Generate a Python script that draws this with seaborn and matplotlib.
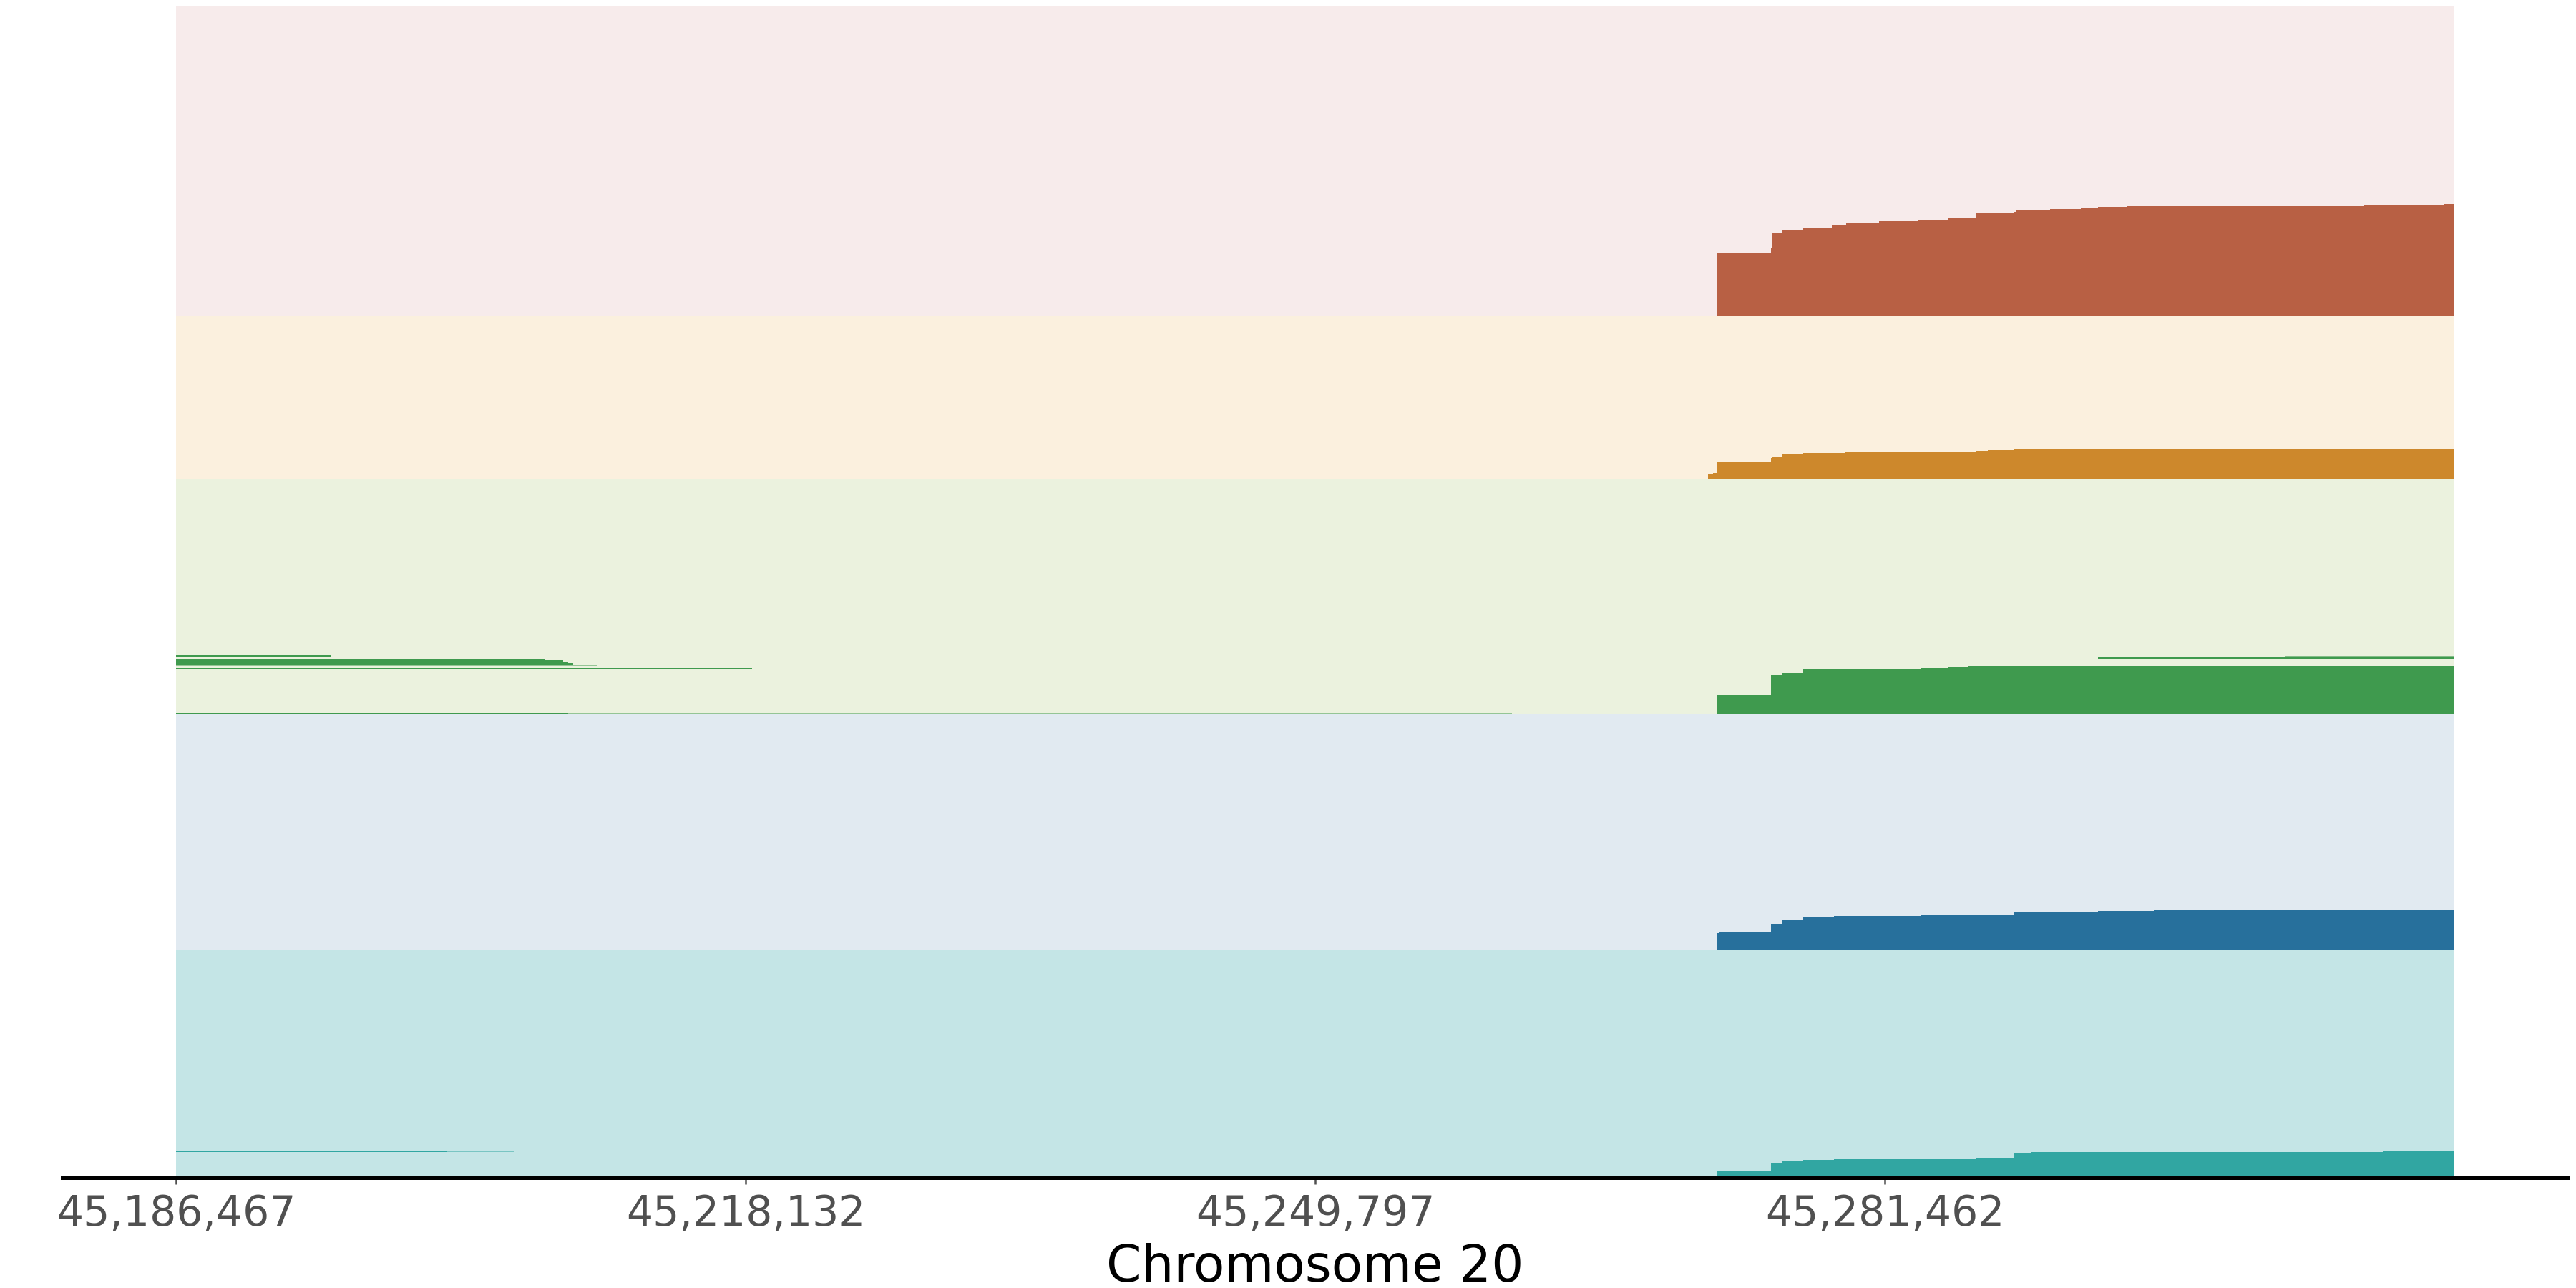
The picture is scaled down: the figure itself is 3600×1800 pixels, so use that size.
import matplotlib
matplotlib.use("Agg")
import matplotlib.pyplot as plt
import seaborn as sns

# ---------------- data ----------------
START = 45186467
END = 45313127
tick_positions = [45186467, 45218132, 45249797, 45281462]
tick_labels = ["45,186,467", "45,218,132", "45,249,797", "45,281,462"]
x_label = "Chromosome 20"

# track order from bottom to top, with number of haplotype rows
track_names = ["teal", "blue", "green", "orange", "red"]
track_rows = [96.5, 100, 100, 69, 131.5]
fill_colors = ["#31A6A2", "#27709C", "#3F9A4E", "#CD882C", "#B86044"]
bg_colors = ["#C4E5E6", "#E1EAF1", "#EBF2DE", "#FBF0DE", "#F7EBEB"]

# stepped blocks reaching the right edge (x where step begins, rows covered)
teal_x = [45272160, 45275129, 45275793, 45276930, 45278636, 45286565, 45288650, 45289598, 45309153]
teal_h = [2.6, 6.4, 7.3, 7.6, 7.9, 8.4, 10.5, 11.0, 11.2]

blue_x = [45271655, 45272160, 45272286, 45275129, 45275793, 45276930, 45278636, 45281795,
          45283501, 45285017, 45288650, 45293326, 45296422, 45309153]
blue_h = [0.4, 7.2, 7.7, 11.1, 12.6, 13.9, 14.4, 14.6, 14.8, 15.0, 16.5, 16.8, 16.9, 17.1]

green_x = [45272160, 45275129, 45275793, 45276930, 45283501, 45285017, 45286123]
green_h = [8.4, 16.9, 17.5, 19.1, 19.6, 20.2, 20.5]

orange_x = [45271655, 45271907, 45272160, 45275129, 45275224, 45275793, 45276930, 45279236,
            45285017, 45286565, 45287197, 45288650, 45290166]
orange_h = [1.7, 2.4, 7.2, 8.6, 9.2, 10.2, 10.8, 11.1, 11.3, 11.8, 12.0, 12.6, 12.8]

red_x = [45272160, 45273392, 45273803, 45275130, 45275224, 45275793, 45276930, 45278510,
         45279173, 45279300, 45281132, 45283312, 45285018, 45286566, 45287198, 45288651,
         45288777, 45290641, 45292378, 45293326, 45294969, 45307036, 45308110, 45312596]
red_h = [26.4, 26.6, 26.8, 29.0, 35.1, 36.1, 37.1, 38.2, 38.8, 39.6, 40.1, 40.5, 41.7, 43.4,
         43.7, 44.1, 45.0, 45.4, 45.6, 46.1, 46.4, 46.6, 46.8, 47.5]

step_x = [teal_x, blue_x, green_x, orange_x, red_x]
step_h = [teal_h, blue_h, green_h, orange_h, red_h]

# isolated haplotype segments: (track, x0, x1, row_lo, row_hi, alpha)
seg_track = ["teal", "teal",
             "green", "green", "green",
             "green", "green", "green", "green", "green", "green", "green", "green",
             "green", "green"]
seg_x0 = [START, 45201540,
          45293326, 45303747, 45292346,
          START, START, START, START, START, START, START, START,
          START, 45208281]
seg_x1 = [45201540, 45205283,
          END, END, END,
          45195100, 45207007, 45207982, 45208281, 45208540, 45209037, 45209873, 45218486,
          45208281, 45260722]
seg_lo = [10.85, 10.9,
          23.5, 24.4, 22.8,
          24.5, 23.0, 22.2, 21.6, 21.2, 20.7, 20.4, 19.1,
          0.0, 0.0]
seg_hi = [11.15, 11.1,
          24.4, 24.7, 23.1,
          25.0, 23.5, 23.0, 22.2, 21.6, 21.2, 20.7, 19.4,
          0.4, 0.3]
seg_alpha = [1.0, 0.5,
             1.0, 0.6, 0.5,
             1.0, 1.0, 1.0, 1.0, 1.0, 1.0, 0.5, 1.0,
             1.0, 0.5]

# ---------------- plot ----------------
sns.set_style("ticks")
plt.rcParams["font.family"] = ["DejaVu Sans"]

fig = plt.figure(figsize=(12, 6), dpi=300)
ax = fig.add_axes([87 / 3600, 1 - 1646 / 1800, (3589 - 87) / 3600, (1646 - 8) / 1800])

bases = []
b = 0.0
for n in track_rows:
    bases.append(b)
    b += n
total_rows = b

for i, name in enumerate(track_names):
    base = bases[i]
    ax.barh(y=base, width=END - START, left=START, height=track_rows[i], align="edge",
            color=bg_colors[i], linewidth=0)
    xs = list(step_x[i]) + [END]
    hs = [base + h for h in step_h[i]] + [base + step_h[i][-1]]
    ax.fill_between(xs, base, hs, step="post", color=fill_colors[i], linewidth=0)

for t, x0, x1, lo, hi, a in zip(seg_track, seg_x0, seg_x1, seg_lo, seg_hi, seg_alpha):
    i = track_names.index(t)
    ax.barh(y=bases[i] + lo, width=x1 - x0, left=x0, height=hi - lo, align="edge",
            color=fill_colors[i], alpha=a, linewidth=0)

R = END - START
ax.set_xlim(START - 0.05 * R, END + 0.05 * R)
ax.set_ylim(0, total_rows)

ax.set_xticks(tick_positions)
ax.set_xticklabels(tick_labels)
ax.set_yticks([])
ax.tick_params(axis="x", colors="#505050", labelsize=14, length=2.2, width=0.6, pad=3)
ax.set_xlabel(x_label, fontsize=17, color="black", labelpad=3)

for side in ["left", "top", "right"]:
    ax.spines[side].set_visible(False)
ax.spines["bottom"].set_color("black")
ax.spines["bottom"].set_linewidth(1.2)
ax.set_facecolor("white")

fig.savefig("out.png", dpi=300)
